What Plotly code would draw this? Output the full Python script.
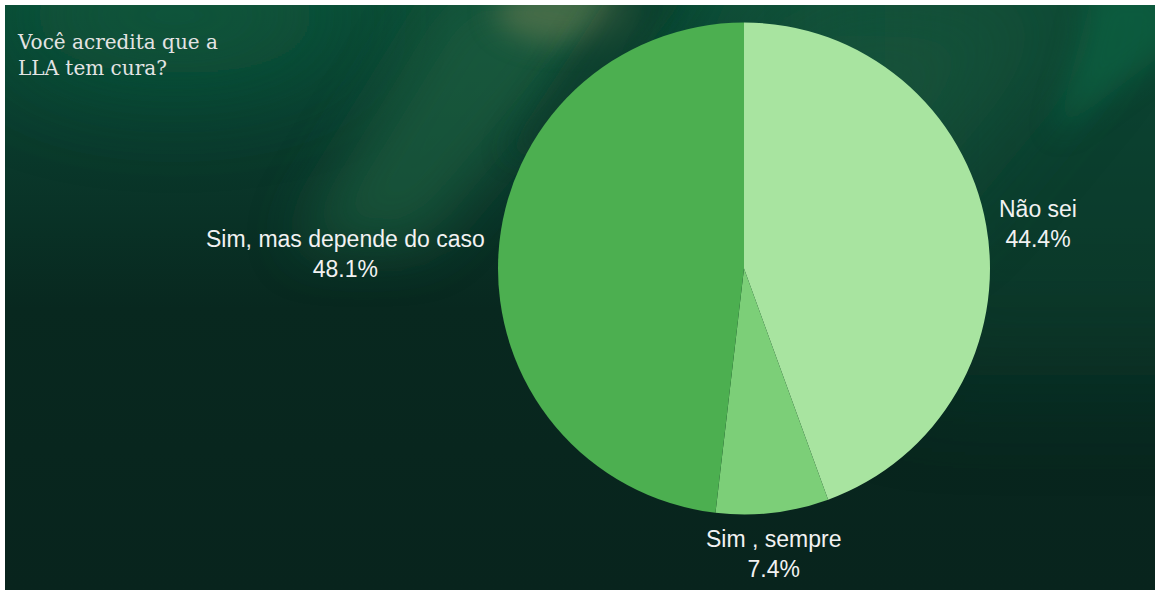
import base64
import math
import plotly.graph_objects as go

# ---- data ----
labels = ["Não sei", "Sim , sempre", "Sim, mas depende do caso"]
values = [12, 2, 13]
colors = ["#a8e4a0", "#7ccf78", "#4caf50"]
title_text = "Você acredita que a<br>LLA tem cura?"

W, H = 1157, 595
# pie domain (paper fractions)
dom_x = [498 / W, 990 / W]
dom_y = [1 - 515 / H, 1 - 22 / H]

# ---- background (decorative gradient as inline SVG) ----
svg = """<svg xmlns='http://www.w3.org/2000/svg' width='1150' height='585' viewBox='0 0 1150 585' preserveAspectRatio='none'>
<defs>
<linearGradient id='g' gradientUnits='userSpaceOnUse' x1='0' y1='0' x2='0' y2='585'>
<stop offset='0' stop-color='#0c4c36'/>
<stop offset='0.22' stop-color='#0a3b2d'/>
<stop offset='0.52' stop-color='#08281f'/>
<stop offset='1' stop-color='#08241d'/>
</linearGradient>
<filter id='b1' x='-100%' y='-100%' width='300%' height='300%'><feGaussianBlur stdDeviation='14'/></filter>
<filter id='b2' x='-100%' y='-100%' width='300%' height='300%'><feGaussianBlur stdDeviation='28'/></filter>
<filter id='b3' x='-100%' y='-100%' width='300%' height='300%'><feGaussianBlur stdDeviation='55'/></filter>
</defs>
<rect width='1150' height='585' fill='url(#g)'/>
<ellipse cx='170' cy='10' rx='170' ry='60' fill='#0b5a3c' opacity='0.8' filter='url(#b3)'/>
<rect x='880' y='-150' width='450' height='520' fill='#0c4533' opacity='0.55' filter='url(#b3)'/>
<polygon points='450,-20 640,-20 420,240 290,240' fill='#1d5f41' opacity='0.7' filter='url(#b2)'/>
<ellipse cx='560' cy='8' rx='70' ry='30' fill='#5f7850' opacity='0.65' filter='url(#b1)'/>
<polygon points='610,-20 690,-20 560,150 500,150' fill='#083a2b' opacity='0.6' filter='url(#b1)'/>
<polygon points='780,-20 1090,-20 900,210 680,210' fill='#1c5c40' opacity='0.6' filter='url(#b3)'/>
<polygon points='1090,-20 1170,-20 1170,40 1050,130' fill='#0a6e48' opacity='0.5' filter='url(#b1)'/>
</svg>"""
bg_uri = "data:image/svg+xml;base64," + base64.b64encode(svg.encode("utf-8")).decode("ascii")

fig = go.Figure()
fig.add_trace(go.Pie(
    labels=labels,
    values=values,
    sort=False,
    direction="clockwise",
    rotation=0,
    marker=dict(colors=colors, line=dict(width=0)),
    textinfo="none",
    domain=dict(x=dom_x, y=dom_y),
    showlegend=False,
    hoverinfo="label+percent",
))

# ---- outside labels placed at each slice's mid-angle (computed from the data) ----
total = sum(values)
cx_px = (dom_x[0] + dom_x[1]) / 2 * W
cy_px = (1 - (dom_y[0] + dom_y[1]) / 2) * H
r_px = min((dom_x[1] - dom_x[0]) * W, (dom_y[1] - dom_y[0]) * H) / 2
gap = 11
cum = 0.0
for lab, val in zip(labels, values):
    mid = (cum + val / 2) / total * 2 * math.pi
    cum += val
    sx, cy = math.sin(mid), math.cos(mid)
    px = cx_px + (r_px + gap) * sx
    py = cy_px - (r_px + gap) * cy
    xa = "left" if sx > 0.5 else ("right" if sx < -0.5 else "center")
    ya = "bottom" if cy > 0.5 else ("top" if cy < -0.5 else "middle")
    fig.add_annotation(
        text=f"{lab}<br>{val / total * 100:.1f}%",
        xref="paper", yref="paper", x=px / W, y=1 - py / H,
        xanchor=xa, yanchor=ya, align="center", showarrow=False,
        font=dict(family="Liberation Sans, Arial, sans-serif", size=23, color="#f2f2f2"),
    )

fig.add_layout_image(dict(
    source=bg_uri, xref="paper", yref="paper",
    x=5 / W, y=1 - 5 / H, sizex=1150 / W, sizey=585 / H,
    xanchor="left", yanchor="top", sizing="stretch", layer="below",
))

fig.add_annotation(
    text=title_text, xref="paper", yref="paper",
    x=15 / W, y=1 - 28 / H, xanchor="left", yanchor="top",
    align="left", showarrow=False,
    font=dict(family="DejaVu Serif, serif", size=20, color="#e4e4e4"),
)

fig.update_layout(
    width=W, height=H,
    margin=dict(l=0, r=0, t=0, b=0),
    paper_bgcolor="#ffffff",
    plot_bgcolor="rgba(0,0,0,0)",
)

fig.write_html("out.html")
